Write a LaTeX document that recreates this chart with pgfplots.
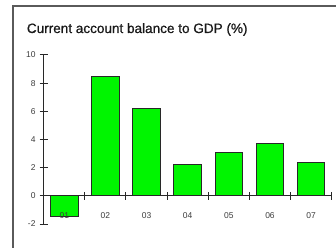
\documentclass[border=0pt]{standalone}
\usepackage{pgfplots}
\pgfplotsset{compat=1.18}
\usepackage{fontspec}
\setmainfont{Liberation Sans}
\newfontfamily\titlefont{Liberation Sans}[FakeBold=0.8]
\definecolor{barg}{RGB}{0,245,0}
\definecolor{edgec}{RGB}{40,40,40}
\definecolor{labc}{RGB}{60,60,60}
\definecolor{framec}{RGB}{90,90,90}
\begin{document}
\begin{tikzpicture}
\path[use as bounding box] (0bp,0bp) rectangle (336bp,248bp);
\draw[line width=1.2bp, color=framec] (13bp,-2bp) -- (13bp,242bp) -- (338bp,242bp);
\node[anchor=base west, inner sep=0pt, font=\titlefont\fontsize{13.6}{16}\selectfont, text=black!90] at (26.7bp,215bp) {Current account balance to GDP (\%)};
\begin{axis}[at={(43.7bp,24bp)}, anchor=south west, scale only axis,
  width=288bp, height=169bp,
  xmin=-0.5, xmax=6.5, ymin=-2, ymax=10,
  axis y line=left, axis x line=middle, axis on top,
  axis line style={-, color=edgec, line width=1bp},
  ytick={-2,0,...,10},
  xtick={0.5,1.5,...,6.5},
  xticklabels={01,02,03,04,05,06,07},
  major tick length=8bp, tick align=center,
  tick style={color=edgec, line width=1bp},
  /pgf/number format/assume math mode=true,
  xticklabel style={anchor=base, xshift=-20.57bp, yshift=-19bp, inner sep=0pt, text=labc, font=\fontsize{8.5}{9}\selectfont},
  yticklabel style={anchor=east, inner sep=0pt, xshift=-4bp, text=labc, font=\fontsize{8.5}{9}\selectfont},
]
\addplot[ybar, bar width=27.5bp, fill=barg, draw=edgec, line width=1bp]
  coordinates {(0,-1.45) (1,8.5) (2,6.2) (3,2.2) (4,3.1) (5,3.7) (6,2.35)};
\end{axis}
\end{tikzpicture}
\end{document}
